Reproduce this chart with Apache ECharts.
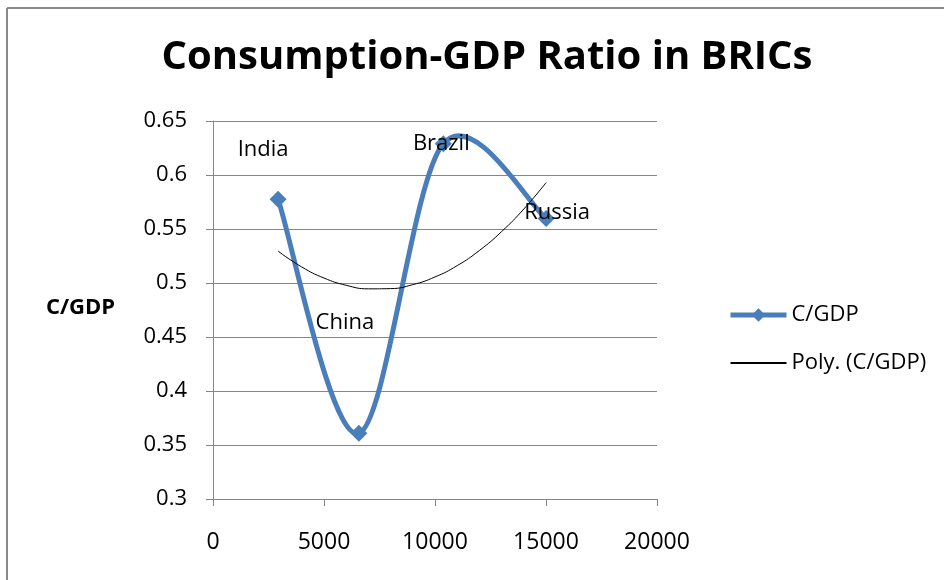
<!DOCTYPE html>
<html><head><meta charset="utf-8">
<script src="https://cdn.jsdelivr.net/npm/echarts@6/dist/echarts.min.js"></script>
<style>html,body{margin:0;padding:0;background:#fff}#c{width:944px;height:580px}</style>
</head><body><div id="c"></div>
<script>
// Data
const countries = ['India', 'China', 'Brazil', 'Russia'];
const gdpPerCapita = [2932, 6572, 10374, 15007];
const cgdpRatio = [0.5776, 0.3608, 0.629, 0.5597];
// Polynomial trendline
const trendX = [2932, 4000, 5000, 6000, 7000, 8000, 9000, 10000, 11000, 12000, 13000, 14000, 15007];
const trendY = [0.5295, 0.5148, 0.5046, 0.4979, 0.4946, 0.4948, 0.4985, 0.5056, 0.5161, 0.5301, 0.5476, 0.5685, 0.5930];
const xTicks = [0, 5000, 10000, 15000, 20000];
const yTicks = [0.3, 0.35, 0.4, 0.45, 0.5, 0.55, 0.6, 0.65];

const labelOffsets = [[-15, -49], [-14, -111], [-2, 0], [11, -6]];
const FONT = '"Open Sans", sans-serif';
const BLUE = '#4a7ebb';

// Excel-like smoothed segment (Catmull-Rom Bezier) drawn through the axes' coordinate system
function renderSegment(params, api) {
  const i = params.dataIndex;
  const n = gdpPerCapita.length;
  if (i >= n - 1) return null;
  const P = j => api.coord([gdpPerCapita[Math.max(0, Math.min(n - 1, j))], cgdpRatio[Math.max(0, Math.min(n - 1, j))]]);
  const p0 = P(i - 1), p1 = P(i), p2 = P(i + 1), p3 = P(i + 2);
  const cp1 = [p1[0] + (p2[0] - p0[0]) / 6, p1[1] + (p2[1] - p0[1]) / 6];
  const cp2 = [p2[0] - (p3[0] - p1[0]) / 6, p2[1] - (p3[1] - p1[1]) / 6];
  return {
    type: 'bezierCurve',
    shape: {x1: p1[0], y1: p1[1], cpx1: cp1[0], cpy1: cp1[1], cpx2: cp2[0], cpy2: cp2[1], x2: p2[0], y2: p2[1]},
    style: {stroke: BLUE, lineWidth: 5, fill: null, lineCap: 'round'}
  };
}

const chart = echarts.init(document.getElementById('c'));
chart.setOption({
  animation: false,
  backgroundColor: '#fff',
  title: {
    text: 'Consumption-GDP Ratio in BRICs',
    left: 482, top: 33, textAlign: 'center',
    textStyle: {fontFamily: FONT, fontSize: 40, fontWeight: 'bold', color: '#000'}
  },
  graphic: [
    {type: 'line', shape: {x1: 7, y1: 8, x2: 944, y2: 8}, style: {stroke: '#8a8a8a', lineWidth: 2}},
    {type: 'line', shape: {x1: 7, y1: 8, x2: 7, y2: 580}, style: {stroke: '#8a8a8a', lineWidth: 2}},
    {type: 'text', left: 46, top: 297, style: {text: 'C/GDP', font: 'bold 22px ' + FONT, fill: '#000'}}
  ],
  legend: {
    left: 728, top: 304, padding: 0, orient: 'vertical', itemGap: 26, itemWidth: 56, itemHeight: 17,
    textStyle: {fontFamily: FONT, fontSize: 22, color: '#000'},
    data: [
      {name: 'C/GDP', lineStyle: {opacity: 1, width: 5, color: BLUE}},
      {name: 'Poly. (C/GDP)', itemStyle: {opacity: 0}}
    ]
  },
  grid: {left: 213, top: 121, width: 444, height: 378},
  xAxis: {
    type: 'value', min: 0, max: 20000, interval: 5000,
    axisLine: {lineStyle: {color: '#868686'}},
    axisTick: {show: true, length: 7, lineStyle: {color: '#868686'}},
    splitLine: {show: false},
    axisLabel: {fontFamily: FONT, fontSize: 23, color: '#000', margin: 32, formatter: v => String(v)}
  },
  yAxis: {
    type: 'value', min: 0.3, max: 0.65, interval: 0.05,
    axisLine: {show: true, lineStyle: {color: '#868686'}},
    axisTick: {show: true, length: 7, lineStyle: {color: '#868686'}},
    splitLine: {lineStyle: {color: '#868686'}},
    axisLabel: {fontFamily: FONT, fontSize: 22, color: '#000', margin: 26,
      formatter: v => String(parseFloat(v.toFixed(2)))}
  },
  series: [
    {
      name: 'C/GDP-curve', type: 'custom', renderItem: renderSegment,
      data: gdpPerCapita.map((x, i) => [x, cgdpRatio[i]]),
      encode: {x: 0, y: 1}, z: 2, silent: true
    },
    {
      name: 'C/GDP', type: 'line',
      data: gdpPerCapita.map((x, i) => ({
        value: [x, cgdpRatio[i]],
        label: {show: true, formatter: countries[i], position: 'inside', offset: labelOffsets[i],
          fontFamily: FONT, fontSize: 22, color: '#000'}
      })),
      symbol: 'diamond', symbolSize: 17,
      lineStyle: {color: BLUE, width: 5, opacity: 0},
      itemStyle: {color: BLUE},
      z: 3
    },
    {
      name: 'Poly. (C/GDP)', type: 'line', smooth: true, symbol: 'none',
      data: trendX.map((x, i) => [x, trendY[i]]),
      lineStyle: {color: '#000', width: 1},
      itemStyle: {color: '#000'},
      z: 4
    }
  ]
});
</script></body></html>
